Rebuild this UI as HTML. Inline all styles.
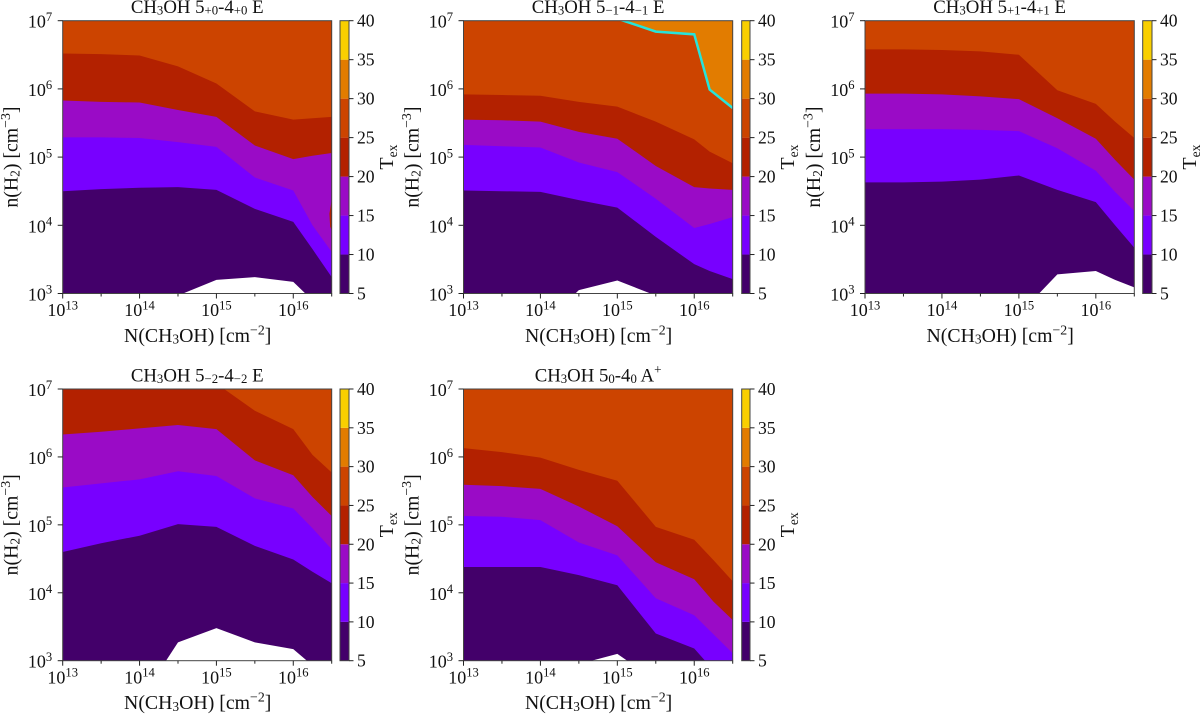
<!DOCTYPE html>
<html>
<head>
<meta charset="utf-8">
<title>CH3OH excitation temperature contours</title>
<style>
html,body{margin:0;padding:0;background:#fff;width:1200px;height:714px;overflow:hidden}
svg{display:block;font-family:"Liberation Serif",serif;fill:#111;filter:blur(0.35px)}
</style>
</head>
<body>
<svg id="figure" width="1200" height="714" viewBox="0 0 1200 714" xmlns="http://www.w3.org/2000/svg"></svg>
<script>
const logNGrid = [13, 13.5, 14, 14.5, 15, 15.5, 16, 16.25, 16.5];
const logNGridP2 = [13, 13.5, 14, 14.5, 15, 15.5, 16, 16.2, 16.5];

const p1Level25 = [6.52, 6.51, 6.49, 6.33, 6.08, 5.67, 5.55, 5.57, 5.59];
const p1Level20 = [5.83, 5.81, 5.80, 5.69, 5.59, 5.17, 4.97, 5.02, 5.06];
const p1Level15 = [5.29, 5.29, 5.28, 5.22, 5.15, 4.70, 4.51, 4.00, 3.61];
const p1Level10 = [4.50, 4.53, 4.55, 4.56, 4.52, 4.24, 4.05, 3.65, 3.24];
const p1Level5 = [2.5, 2.5, 2.6, 2.97, 3.20, 3.24, 3.17, 2.90, 2.5];
const p1IslandN = [16.5, 16.47, 16.48, 16.5];
const p1IslandLog = [4.37, 4.17, 3.98, 3.93];

const p2Level30 = [7.25, 7.25, 7.25, 7.25, 7.03, 6.84, 6.80, 5.99, 5.72];
const p2Level25 = [5.92, 5.91, 5.90, 5.81, 5.74, 5.52, 5.26, 5.08, 4.91];
const p2Level20 = [5.55, 5.54, 5.52, 5.37, 5.27, 4.87, 4.56, 4.54, 4.52];
const p2Level15 = [5.18, 5.16, 5.14, 4.92, 4.78, 4.39, 3.96, 4.02, 4.12];
const p2Level10 = [4.51, 4.50, 4.49, 4.37, 4.26, 3.83, 3.43, 3.33, 3.21];
const p2Level5 = [2.5, 2.5, 2.5, 3.05, 3.19, 2.97, 2.5, 2.5, 2.5];

const p3Level25 = [6.58, 6.58, 6.57, 6.55, 6.50, 5.98, 5.78, 5.52, 5.28];
const p3Level20 = [5.93, 5.93, 5.92, 5.89, 5.85, 5.57, 5.27, 4.96, 4.67];
const p3Level15 = [5.41, 5.41, 5.41, 5.40, 5.38, 5.13, 4.80, 4.49, 4.21];
const p3Level10 = [4.63, 4.63, 4.64, 4.67, 4.73, 4.52, 4.34, 4.00, 3.67];
const p3Level5 = [2.4, 2.4, 2.4, 2.4, 2.69, 3.28, 3.33, 3.20, 3.09];

const p4Level25 = [7.25, 7.25, 7.25, 7.25, 7.08, 6.68, 6.41, 6.03, 5.77];
const p4Level20 = [6.33, 6.37, 6.42, 6.47, 6.41, 5.95, 5.73, 5.41, 5.13];
const p4Level15 = [5.55, 5.61, 5.67, 5.79, 5.72, 5.39, 5.24, 4.95, 4.64];
const p4Level10 = [4.60, 4.73, 4.84, 5.01, 4.97, 4.69, 4.49, 4.31, 4.14];
const p4Level5 = [2.4, 2.4, 2.4, 3.27, 3.48, 3.27, 3.17, 2.93, 2.4];

const p5Level25 = [6.13, 6.07, 5.99, 5.81, 5.65, 4.97, 4.78, 4.48, 4.17];
const p5Level20 = [5.59, 5.57, 5.53, 5.27, 4.98, 4.45, 4.20, 3.87, 3.60];
const p5Level15 = [5.13, 5.12, 5.07, 4.74, 4.55, 3.92, 3.67, 3.39, 3.11];
const p5Level10 = [4.38, 4.38, 4.38, 4.26, 4.11, 3.40, 3.18, 2.86, 2.60];
const p5Level5 = [2.5, 2.5, 2.5, 2.95, 3.10, 2.71, 2.5, 2.5, 2.5];

const tempLevels = [5, 10, 15, 20, 25, 30, 35, 40];
const bandColors = ["#43006a", "#7800ff", "#9a0bc6", "#b32100", "#cc4400", "#e27c00", "#f9cf00"];
const xTickValues = [13, 13.5, 14, 14.5, 15, 15.5, 16, 16.5];
const xTickLabels = [13, 14, 15, 16];
const yTickLabels = [3, 4, 5, 6, 7];

const xDomain = [13, 16.5];
const yDomain = [3, 7];
const tempDomain = [5, 40];

const panels = [
  {id:"p1", left:62.7, right:331.7, top:20.7, bottom:293.5, cbL:340, cbR:349, grid:logNGrid,
   base:4, levels:[[25,p1Level25],[20,p1Level20],[15,p1Level15],[10,p1Level10]], white:p1Level5,
   island:[p1IslandN,p1IslandLog], sub1:"+0", sub2:"+0", suffix:" E"},
  {id:"p2", left:463.5, right:732.7, top:20.7, bottom:293.5, cbL:741.7, cbR:750, grid:logNGridP2,
   base:5, levels:[[30,p2Level30],[25,p2Level25],[20,p2Level20],[15,p2Level15],[10,p2Level10]], white:p2Level5,
   cyan:p2Level30, sub1:"\u22121", sub2:"\u22121", suffix:" E"},
  {id:"p3", left:865, right:1134.3, top:20.7, bottom:293.5, cbL:1142.7, cbR:1152, grid:logNGrid,
   base:4, levels:[[25,p3Level25],[20,p3Level20],[15,p3Level15],[10,p3Level10]], white:p3Level5,
   sub1:"+1", sub2:"+1", suffix:" E"},
  {id:"p4", left:62.7, right:331.7, top:389, bottom:660.7, cbL:340, cbR:349, grid:logNGrid,
   base:4, levels:[[25,p4Level25],[20,p4Level20],[15,p4Level15],[10,p4Level10]], white:p4Level5,
   sub1:"\u22122", sub2:"\u22122", suffix:" E"},
  {id:"p5", left:463.5, right:732.7, top:389, bottom:660.7, cbL:741.7, cbR:750, grid:logNGrid,
   base:4, levels:[[25,p5Level25],[20,p5Level20],[15,p5Level15],[10,p5Level10]], white:p5Level5,
   sub1:"0", sub2:"0", suffix:" A", sup:"+"}
];

const NS = "http://www.w3.org/2000/svg";
const figure = document.getElementById("figure");

function make(tag, attrs, parent) {
  const node = document.createElementNS(NS, tag);
  for (const k in attrs) node.setAttribute(k, attrs[k]);
  parent.appendChild(node);
  return node;
}

function richText(node, parts, size, subShift) {
  let shift = 0;
  const subOffset = subShift === undefined ? 0.09 : subShift;
  parts.forEach(function (part) {
    const t = document.createElementNS(NS, "tspan");
    let target = 0;
    let fs = size;
    if (part[1] === "sub") { target = size * subOffset; fs = size * 0.68; }
    if (part[1] === "sup") { target = -size * 0.38; fs = size * 0.7; }
    t.setAttribute("dy", (target - shift).toFixed(2));
    t.setAttribute("font-size", fs.toFixed(2));
    t.textContent = part[0];
    shift = target;
    node.appendChild(t);
  });
}

panels.forEach(function (p) {
  const xScale = function (v) { return p.left + (v - xDomain[0]) / (xDomain[1] - xDomain[0]) * (p.right - p.left); };
  const yScale = function (v) { return p.bottom - (v - yDomain[0]) / (yDomain[1] - yDomain[0]) * (p.bottom - p.top); };
  const tScale = function (v) { return p.bottom - (v - tempDomain[0]) / (tempDomain[1] - tempDomain[0]) * (p.bottom - p.top); };
  const cx = (p.left + p.right) / 2;
  const cy = (p.top + p.bottom) / 2;

  const group = make("g", {}, figure);
  
  

  const clip = make("clipPath", {id: "clip-" + p.id}, group);
  make("rect", {x: p.left, y: p.top, width: p.right - p.left, height: p.bottom - p.top}, clip);

  const plot = make("g", {"clip-path": "url(#clip-" + p.id + ")"}, group);
  
  

  const baseBand = make("rect", {x: p.left, y: p.top, width: p.right - p.left, height: p.bottom - p.top, fill: bandColors[p.base]}, plot);
  
  

  const areaBelow = function (values) {
    const floorY = (p.bottom + 45).toFixed(2);
    let d = "M" + xScale(p.grid[0]).toFixed(2) + "," + floorY;
    values.forEach(function (v, i) {
      d += "L" + xScale(p.grid[i]).toFixed(2) + "," + yScale(v).toFixed(2);
    });
    return d + "L" + xScale(p.grid[p.grid.length - 1]).toFixed(2) + "," + floorY + "Z";
  };

  p.levels.forEach(function (entry) {
    const band = tempLevels.indexOf(entry[0]) - 1;
    const area = make("path", {d: areaBelow(entry[1]), fill: bandColors[band]}, plot);
    
    
  });

  const whiteArea = make("path", {d: areaBelow(p.white), fill: "#ffffff"}, plot);
  
  

  if (p.island) {
    let d = "";
    p.island[0].forEach(function (n, i) {
      d += (i ? "L" : "M") + xScale(n).toFixed(2) + "," + yScale(p.island[1][i]).toFixed(2);
    });
    const island = make("path", {d: d + "Z", fill: bandColors[3]}, plot);
    
    
  }

  if (p.cyan) {
    const pts = p.cyan.map(function (v, i) { return xScale(p.grid[i]).toFixed(2) + "," + yScale(v).toFixed(2); }).join(" ");
    const line = make("polyline", {points: pts, fill: "none", stroke: "#26e4da", "stroke-width": 2.5}, plot);
    
    
  }

  const frame = make("rect", {x: p.left, y: p.top, width: p.right - p.left, height: p.bottom - p.top, fill: "none", stroke: "#444", "stroke-width": 1}, group);
  
  

  xTickValues.forEach(function (v) {
    const major = Number.isInteger(v);
    const tick = make("line", {x1: xScale(v), x2: xScale(v), y1: p.bottom, y2: p.bottom + (major ? 5 : 3), stroke: "#222", "stroke-width": 1}, group);
    
    
  });
  xTickLabels.forEach(function (v) {
    const label = make("text", {x: xScale(v), y: p.bottom + 22.6, "text-anchor": "middle"}, group);
    
    
    richText(label, [["10"], [String(v), "sup"]], 18);
  });
  yTickLabels.forEach(function (v) {
    const tick = make("line", {x1: p.left - 5, x2: p.left, y1: yScale(v), y2: yScale(v), stroke: "#222", "stroke-width": 1}, group);
    
    
    const label = make("text", {x: p.left - 10.5, y: yScale(v) + 7, "text-anchor": "end"}, group);
    
    
    richText(label, [["10"], [String(v), "sup"]], 18);
  });

  const title = make("text", {x: cx, y: p.top - 7.7, "text-anchor": "middle"}, group);
  
  
  const titleParts = [["CH"], ["3", "sub"], ["OH 5"], [p.sub1, "sub"], ["-4"], [p.sub2, "sub"], [p.suffix]];
  if (p.sup) titleParts.push([p.sup, "sup"]);
  richText(title, titleParts, 18.8);

  const xLabel = make("text", {x: cx + 0.5, y: p.bottom + 48.4, "text-anchor": "middle"}, group);
  
  
  richText(xLabel, [["N(CH"], ["3", "sub"], ["OH) [cm"], ["\u22122", "sup"], ["]"]], 19.8);

  const yLabelX = p.left - 45;
  const yLabel = make("text", {x: yLabelX, y: cy, "text-anchor": "middle", transform: "rotate(-90 " + yLabelX + " " + cy + ")"}, group);
  
  
  richText(yLabel, [["n(H"], ["2", "sub"], [") [cm"], ["\u22123", "sup"], ["]"]], 19.8);

  const cbar = make("g", {}, group);
  
  
  bandColors.forEach(function (color, i) {
    const y1 = tScale(tempLevels[i + 1]);
    const y2 = tScale(tempLevels[i]);
    const seg = make("rect", {x: p.cbL, y: y1, width: p.cbR - p.cbL, height: y2 - y1, fill: color}, cbar);
    
    
  });
  const cbFrame = make("rect", {x: p.cbL, y: p.top, width: p.cbR - p.cbL, height: p.bottom - p.top, fill: "none", stroke: "#444", "stroke-width": 1}, cbar);
  
  
  tempLevels.forEach(function (v) {
    const tick = make("line", {x1: p.cbR, x2: p.cbR + 4.5, y1: tScale(v), y2: tScale(v), stroke: "#222", "stroke-width": 1}, cbar);
    
    
    const label = make("text", {x: p.cbR + 8, y: tScale(v) + 6, "font-size": 17.6}, cbar);
    
    
    label.textContent = String(v);
  });
  const texX = p.cbR + 44;
  const tex = make("text", {x: texX, y: cy, "text-anchor": "middle", transform: "rotate(-90 " + texX + " " + cy + ")"}, cbar);
  
  
  richText(tex, [["T"], ["ex", "sub"]], 20, 0.2);
});
</script>
</body>
</html>
